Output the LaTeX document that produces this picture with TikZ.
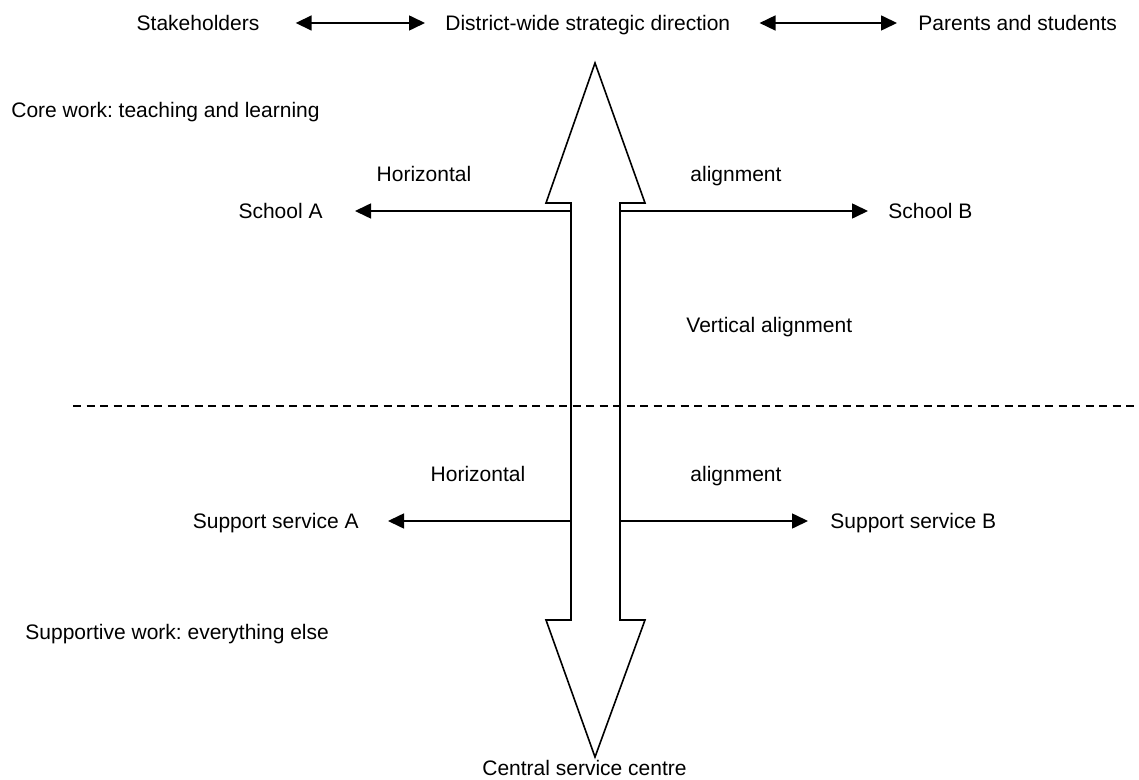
\documentclass[tikz,border=0pt]{standalone}
\usepackage{fontspec}
\setmainfont{Liberation Sans}
\usepackage{tikz}
\usetikzlibrary{arrows.meta}
\frenchspacing
\tikzset{
  txt/.style={inner sep=0pt,text height=0.72em,text depth=0pt,
              font=\fontsize{10.5}{12}\selectfont},
  flow/.style={-{Triangle[length=8pt,width=7.5pt]},line width=0.8pt},
  flowb/.style={{Triangle[length=8pt,width=7.5pt]}-{Triangle[length=8pt,width=7.5pt]},line width=0.8pt},
  bigarrow/.style={draw,line width=0.8pt,fill=white,line join=miter},
  sepline/.style={line width=0.8pt,dash pattern=on 4pt off 2.75pt},
}
\begin{document}
\begin{tikzpicture}[x=0.5pt,y=-0.5pt]
  \useasboundingbox (0,0) rectangle (1139,780);

  % top row
  \node[txt]            (stake)    at (198,23) {Stakeholders};
  \node[txt,anchor=west] (district) at (445,23) {District-wide strategic direction};
  \node[txt,anchor=west] (parents)  at (918,23) {Parents and students};
  \draw[flowb,shorten <=18pt,shorten >=10pt] (stake.east) -- (district.west);
  \draw[flowb,shorten <=14.5pt,shorten >=10.5pt] (district.east) -- (parents.west);

  % double arrow
  \draw[bigarrow] (595,63) -- (645,203) -- (620,203) -- (620,620) -- (645,620)
    -- (595,757) -- (546,620) -- (571,620) -- (571,203) -- (546,203) -- cycle;
  \coordinate (shaftTL) at (571,211);
  \coordinate (shaftTR) at (620,211);
  \coordinate (shaftBL) at (571,521);
  \coordinate (shaftBR) at (620,521);

  % core work
  \node[txt,anchor=west] (core)   at (11,110)  {Core work: teaching and learning};
  \node[txt]             (horizA) at (424,174) {Horizontal};
  \node[txt,anchor=west] (alignA) at (690,174) {alignment};
  \node[txt,anchor=east] (schoolA) at (323,211) {School A};
  \node[txt,anchor=west] (schoolB) at (888,211) {School B};
  \draw[flow,shorten >=16pt] (shaftTL) -- (schoolA.east);
  \draw[flow,shorten >=10pt] (shaftTR) -- (schoolB.west);

  \node[txt,anchor=west] (vert) at (686,325) {Vertical alignment};

  % separator
  \draw[sepline] (73,406) -- (1139,406);

  % supportive work
  \node[txt]             (horizB) at (478,474) {Horizontal};
  \node[txt,anchor=west] (alignB) at (690,474) {alignment};
  \node[txt,anchor=east] (suppA)  at (359,521) {Support service A};
  \node[txt,anchor=west] (suppB)  at (830,521) {Support service B};
  \draw[flow,shorten >=14.5pt] (shaftBL) -- (suppA.east);
  \draw[flow,shorten >=11pt] (shaftBR) -- (suppB.west);

  \node[txt,anchor=west] (supportive) at (25,632) {Supportive work: everything else};
  \node[txt,anchor=east] (central) at (687,768) {Central service centre};
\end{tikzpicture}
\end{document}
